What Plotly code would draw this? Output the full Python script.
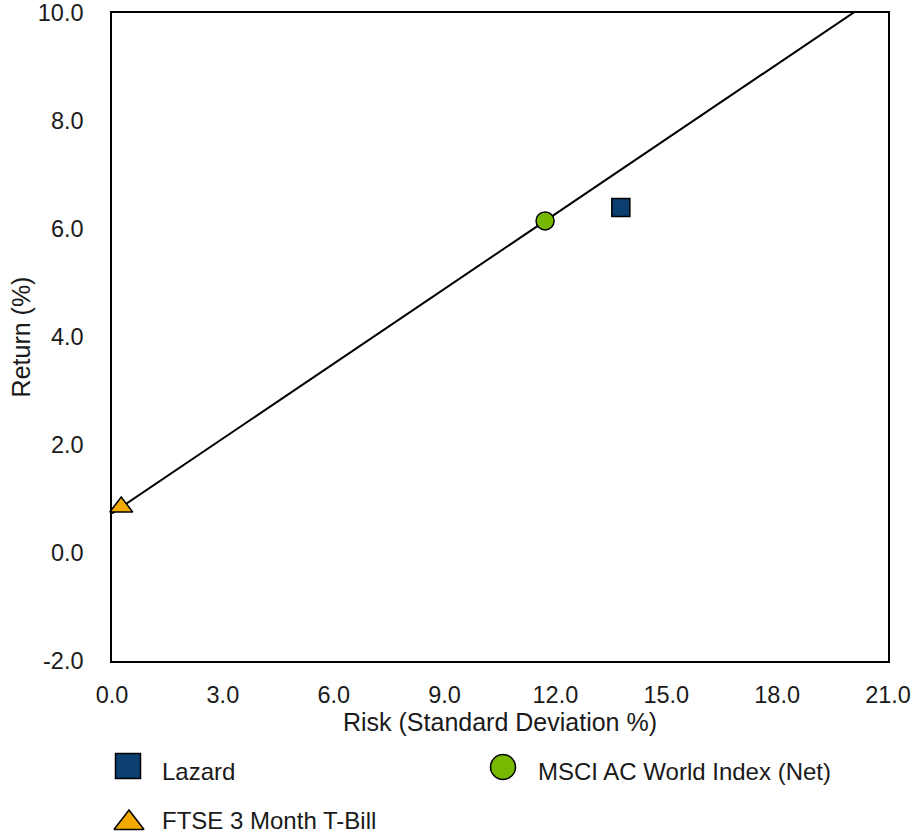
import plotly.graph_objects as go

# ---- data ----
series_names = ["Lazard", "MSCI AC World Index (Net)", "FTSE 3 Month T-Bill"]
risk_values = [13.77, 11.72, 0.25]      # standard deviation %
return_values = [6.40, 6.15, 0.85]      # return %
x_ticks = [0, 3, 6, 9, 12, 15, 18, 21]
y_ticks = [-2, 0, 2, 4, 6, 8, 10]

# ---- styles ----
colors = ["#0b3f6f", "#76b900", "#f2a900"]
symbols = ["square", "circle", "triangle-up"]
plot_sizes = [18, 18, 20]
legend_sizes = [25, 25, 26]
FONT = "Liberation Sans, Arial, sans-serif"
TXT = "#1a1a1a"
TICKC = "#c6cacf"

W, H = 912, 838
ML, MR, MT, MB = 112, 24, 13, 0
paper_h = H - MT - MB
plot_bottom_px = 661
y_dom0 = (H - plot_bottom_px) / paper_h

fig = go.Figure()

# capital market line through T-Bill and MSCI index
tx, ty = risk_values[2], return_values[2]
mx, my = risk_values[1], return_values[1]
slope = (my - ty) / (mx - tx)
line_x = [x_ticks[0], x_ticks[-1]]
line_y = [ty + slope * (v - tx) for v in line_x]
fig.add_trace(go.Scatter(x=line_x, y=line_y, mode="lines",
                         line=dict(color="black", width=2),
                         hoverinfo="skip", showlegend=False))

for i, name in enumerate(series_names):
    fig.add_trace(go.Scatter(
        x=[risk_values[i]], y=[return_values[i]], mode="markers", name=name,
        marker=dict(symbol=symbols[i], size=plot_sizes[i], color=colors[i],
                    line=dict(color="black", width=1.5)),
        showlegend=False, cliponaxis=False))

# ---- custom legend (on a hidden pixel-unit axis below the plot) ----
leg_dom_top = 0.2
leg_top_px = H - leg_dom_top * paper_h
legend_pos = [(128, 766), (503, 767), (129, 823)]
legend_text_x = [160, 536, 160]
legend_text_y = [771, 771, 820]
for i, name in enumerate(series_names):
    fig.add_trace(go.Scatter(
        x=[legend_pos[i][0]], y=[legend_pos[i][1]], mode="markers",
        xaxis="x3", yaxis="y3",
        marker=dict(symbol=symbols[i], size=legend_sizes[i], color=colors[i],
                    line=dict(color="black", width=1.5)),
        showlegend=False, hoverinfo="skip", cliponaxis=False))
    fig.add_annotation(x=legend_text_x[i], y=legend_text_y[i], xref="x3", yref="y3",
                       text=name, showarrow=False, xanchor="left", yanchor="middle",
                       font=dict(family=FONT, size=24, color=TXT))

fig.update_layout(
    width=W, height=H,
    margin=dict(l=ML, r=MR, t=MT, b=MB, autoexpand=False),
    paper_bgcolor="white", plot_bgcolor="white",
    font=dict(family=FONT, size=22, color=TXT),
    showlegend=False,
    xaxis=dict(range=[x_ticks[0], x_ticks[-1]], tickvals=x_ticks,
               ticktext=[f"{v:.1f}" for v in x_ticks],
               ticks="outside", ticklen=10, tickcolor="rgba(0,0,0,0)",
               showline=True, linecolor="black", linewidth=1.5, mirror=True,
               showgrid=False, zeroline=False, automargin=False,
               ticklabelstandoff=2,
               title=dict(text="Risk (Standard Deviation %)", standoff=3,
                          font=dict(size=25)),
               tickfont=dict(size=23.5), anchor="y"),
    yaxis=dict(range=[y_ticks[0], y_ticks[-1]], tickvals=y_ticks,
               ticktext=[f"{v:.1f}" for v in y_ticks],
               ticks="outside", ticklen=10, tickcolor="rgba(0,0,0,0)",
               showline=True, linecolor="black", linewidth=1.5, mirror=True,
               showgrid=False, zeroline=False, domain=[y_dom0, 1],
               automargin=False, ticklabelstandoff=12,
               title=dict(text="Return (%)", standoff=0, font=dict(size=25)),
               tickfont=dict(size=23.5), anchor="x"),
    xaxis2=dict(overlaying="x", anchor="y", range=[x_ticks[0], x_ticks[-1]],
                tickvals=x_ticks[1:-1], ticks="outside", ticklen=10, tickwidth=3,
                tickcolor=TICKC, showticklabels=False, showline=False,
                showgrid=False, zeroline=False, side="bottom"),
    yaxis2=dict(overlaying="y", anchor="x", range=[y_ticks[0], y_ticks[-1]],
                tickvals=y_ticks[1:-1], ticks="outside", ticklen=10, tickwidth=3,
                tickcolor=TICKC, showticklabels=False, showline=False,
                showgrid=False, zeroline=False, side="left"),
    xaxis3=dict(domain=[0, 1], range=[ML, W - MR], visible=False, anchor="y3",
                fixedrange=True),
    yaxis3=dict(domain=[0, leg_dom_top], range=[H, leg_top_px], visible=False,
                anchor="x3", fixedrange=True),
)

fig.write_html("out.html", config={"displayModeBar": False},
               post_script="document.body.style.margin='0';")
